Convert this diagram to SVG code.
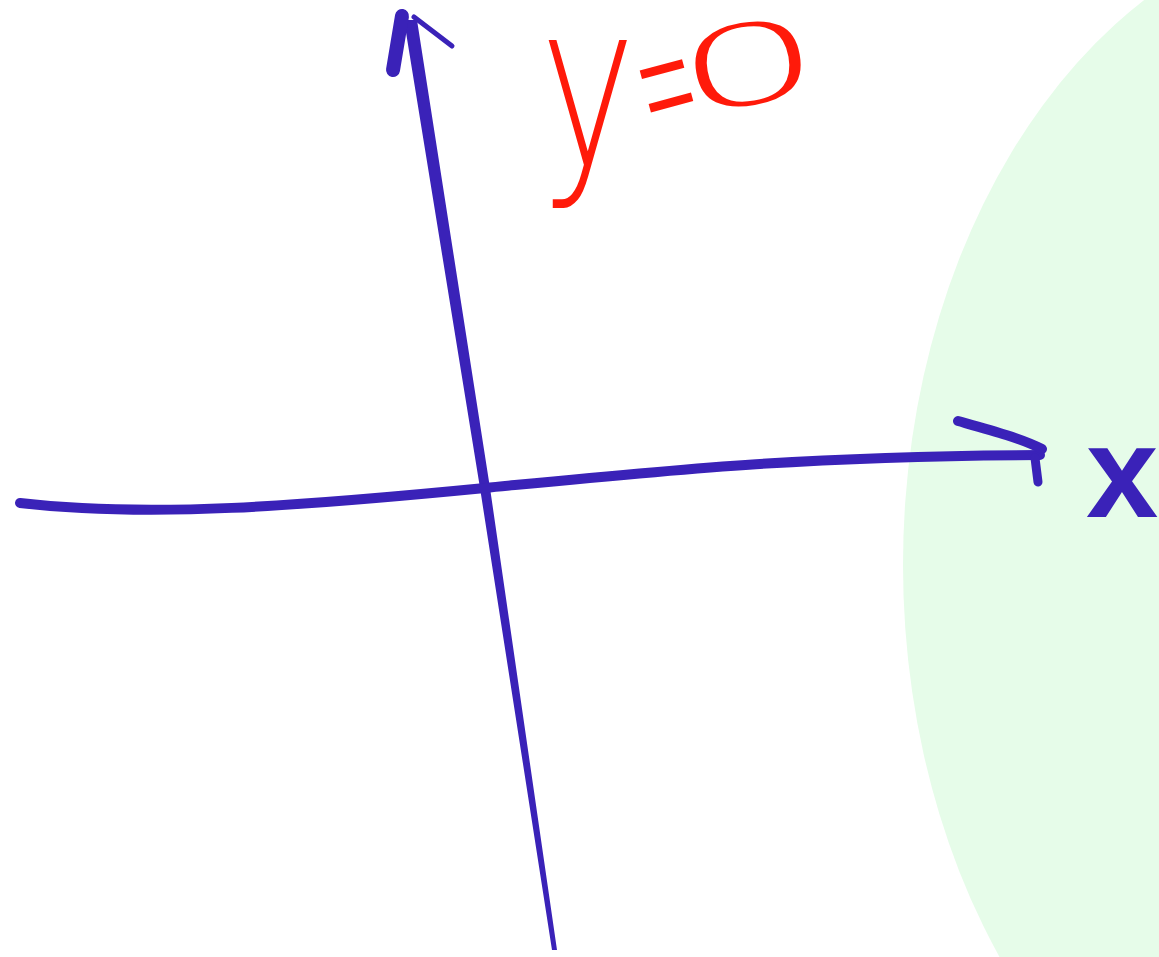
<svg xmlns="http://www.w3.org/2000/svg" width="1159" height="957" viewBox="0 0 1159 957">
<style>
.ink{fill:none;stroke:#3a22b8;stroke-linecap:round;stroke-linejoin:round}
.blue{fill:#3a22b8}
.red{fill:#ff1a0a;font-family:"DejaVu Sans","Liberation Sans",sans-serif;font-weight:200}
.lbl{font-family:"Liberation Sans",Arial,sans-serif}
</style>
<rect width="1159" height="957" fill="#ffffff"/>
<g id="region">
<ellipse cx="1380" cy="565" rx="477" ry="650" fill="#e6fce9"/>
</g>
<g id="axes">
<g id="y-axis">
<path class="blue" d="M404,20 L480,488 L552,950 L557,950 L490,488 L417,20 Z"/>
<path class="ink" stroke-width="14" d="M393,70 L402,16"/>
<path class="ink" stroke-width="5" d="M414,17 L452,46"/>
</g>
<g id="x-axis">
<path class="ink" stroke-width="10" d="M20,503 C150,518 300,506 485,488 S800,456 1040,455"/>
<path class="ink" stroke-width="10" d="M958,421 C990,430 1020,438 1042,449"/>
<path class="ink" stroke-width="9" d="M1035,458 L1038,482"/>
</g>
</g>
<g id="label-x">
<text class="lbl blue" x="1086" y="517" font-size="130" font-weight="bold">x</text>
</g>
<g id="label-eq">
<text class="red" transform="translate(540,165) scale(0.85,1.2)" font-size="190">y</text>
<text class="red" transform="translate(656,160) rotate(-15) scale(0.7,2.2)" font-size="100">=</text>
<text class="red" transform="translate(683,116) rotate(-10) scale(2.1,1)" font-size="110">0</text>
</g>
</svg>
